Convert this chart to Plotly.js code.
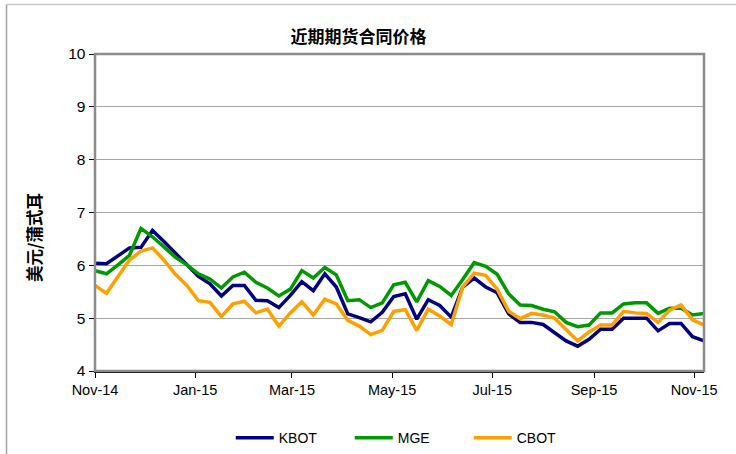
<!DOCTYPE html>
<html>
<head>
<meta charset="utf-8">
<script src="https://cdn.plot.ly/plotly-3.0.1.min.js"></script>
<style>html,body{margin:0;padding:0;background:#fff;}#chart{width:736px;height:454px;}</style>
</head>
<body>
<div id="chart"></div>
<script>
const startDate = '2014-11-01';
const weeks = 54;
const kbot = [6.04,6.03,6.18,6.33,6.34,6.66,6.45,6.22,6.01,5.79,5.65,5.42,5.62,5.62,5.34,5.33,5.20,5.43,5.69,5.52,5.84,5.59,5.08,5.01,4.93,5.11,5.41,5.46,4.98,5.35,5.24,5.02,5.59,5.76,5.59,5.48,5.08,4.92,4.92,4.88,4.73,4.57,4.47,4.60,4.79,4.79,5.00,5.00,5.00,4.76,4.90,4.90,4.65,4.57];
const mge = [5.90,5.84,6.01,6.19,6.70,6.54,6.35,6.15,6.01,5.84,5.74,5.57,5.78,5.87,5.68,5.57,5.42,5.55,5.90,5.76,5.96,5.82,5.33,5.35,5.20,5.29,5.63,5.68,5.31,5.71,5.60,5.43,5.73,6.05,5.98,5.83,5.46,5.25,5.24,5.17,5.12,4.92,4.84,4.87,5.10,5.10,5.27,5.29,5.29,5.09,5.19,5.19,5.06,5.09];
const cbot = [5.62,5.47,5.79,6.10,6.27,6.33,6.10,5.83,5.62,5.33,5.30,5.03,5.27,5.32,5.10,5.17,4.85,5.10,5.31,5.06,5.36,5.27,4.96,4.85,4.69,4.77,5.13,5.16,4.77,5.17,5.04,4.88,5.59,5.85,5.81,5.55,5.13,4.99,5.09,5.06,5.00,4.79,4.57,4.74,4.87,4.87,5.13,5.10,5.09,4.92,5.15,5.25,4.97,4.87];
const seriesNames = ['KBOT','MGE','CBOT'];
const seriesColors = ['#000080','#009900','#FFA000'];

function weekDates(start, n) {
  const out = [];
  const d0 = new Date(start + 'T00:00:00Z');
  for (let i = 0; i < n; i++) {
    const d = new Date(d0.getTime() + i * 7 * 86400000);
    out.push(d.toISOString().slice(0, 10));
  }
  return out;
}
const dates = weekDates(startDate, weeks);

const traces = [kbot, mge, cbot].map((ys, k) => ({
  type: 'scatter', mode: 'lines', x: dates, y: ys, name: seriesNames[k],
  line: {color: seriesColors[k], width: 3.5}
}));

const font = 'Liberation Sans, Arial, sans-serif';
const cjk = 'Noto Sans CJK SC, sans-serif';

const layout = {
  width: 736, height: 454,
  margin: {l: 95, r: 32, t: 53.5, b: 83},
  paper_bgcolor: '#ffffff', plot_bgcolor: '#ffffff',
  font: {family: font, size: 14, color: '#000'},
  title: {text: '<b>近期期货合同价格</b>', font: {family: cjk, size: 17, color: '#000'},
          x: 0.487, xref: 'container', xanchor: 'center', y: 0.918, yref: 'container', yanchor: 'middle'},
  xaxis: {
    type: 'date', range: ['2014-11-01', '2015-11-07'],
    tick0: '2014-11-01', dtick: 'M2', tickformat: '%b-%y',
    showgrid: false, zeroline: false,
    showline: true, linecolor: '#000', linewidth: 1.5,
    ticks: 'outside', ticklen: 5, tickcolor: '#000',
    tickfont: {family: font, size: 14.5, color: '#000'}
  },
  yaxis: {
    range: [4, 10], dtick: 1, tick0: 4,
    showgrid: true, gridcolor: '#A6A6A6', gridwidth: 1.2, zeroline: false,
    showline: true, linecolor: '#000', linewidth: 1.5,
    ticks: 'outside', ticklen: 5, tickcolor: '#000',
    tickfont: {family: font, size: 15.5, color: '#000'}
  },
  legend: {orientation: 'h', xref: 'paper', x: 0.516, xanchor: 'center',
           yref: 'container', y: 0.035, yanchor: 'middle',
           font: {family: font, size: 14, color: '#000'}, itemwidth: 38,
           entrywidth: 66, entrywidthmode: 'pixels', tracegroupgap: 0},
  annotations: [{
    text: '<b>美元/蒲式耳</b>', xref: 'paper', yref: 'paper', x: -0.1, y: 0.42,
    xanchor: 'center', yanchor: 'middle', textangle: -90, showarrow: false,
    font: {family: cjk, size: 16.5, color: '#000'}
  }],
  shapes: [
    {type: 'rect', xref: 'paper', yref: 'paper', x0: 0, x1: 1, y0: 0, y1: 1,
     line: {color: '#8C8C8C', width: 2.5}, layer: 'above'},
    {type: 'line', xref: 'paper', yref: 'paper', x0: -0.1453, x1: -0.1453, y0: -0.3, y1: 1.156,
     line: {color: '#A0A0A0', width: 1.5}},
    {type: 'line', xref: 'paper', yref: 'paper', x0: -0.1453, x1: 1.06, y0: 1.156, y1: 1.156,
     line: {color: '#C8C8C8', width: 1.5}}
  ]
};

Plotly.newPlot('chart', traces, layout, {displayModeBar: false, staticPlot: true});
</script>
</body>
</html>
